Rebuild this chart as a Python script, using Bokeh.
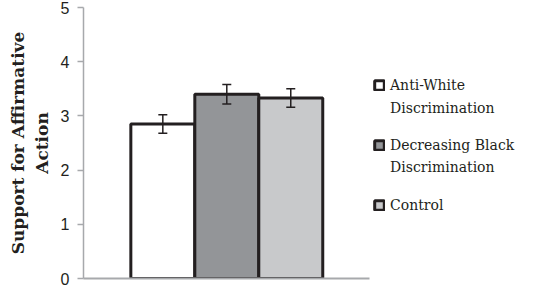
from bokeh.plotting import figure
from bokeh.models import (ColumnDataSource, Whisker, Legend, LegendItem,
                          TeeHead, Range1d, FixedTicker)
from bokeh.embed import file_html
from bokeh.resources import INLINE

categories = ["Anti-White Discrimination", "Decreasing Black Discrimination", "Control"]
legend_first_lines = ["Anti-White", "Decreasing Black", "Control"]
legend_second_lines = ["Discrimination", "Discrimination"]
means = [2.85, 3.40, 3.33]
errors = [0.17, 0.18, 0.17]
colors = ["#ffffff", "#939598", "#c8c9cb"]
y_ticks = [0, 1, 2, 3, 4, 5]

positions = [i + 1 for i in range(len(categories))]
src = ColumnDataSource(dict(
    x=positions, name=categories, top=means, color=colors,
    upper=[m + e for m, e in zip(means, errors)],
    lower=[m - e for m, e in zip(means, errors)],
))

axis_start, axis_end = -0.24, 4.23

p = figure(width=534, height=287,
           x_range=Range1d(axis_start, 6.81),
           y_range=Range1d(0, 5),
           output_backend="svg", toolbar_location=None,
           min_border_left=83, min_border_top=7, min_border_bottom=9, min_border_right=0)

p.outline_line_color = None
p.xgrid.grid_line_color = None
p.ygrid.grid_line_color = None

xa = p.xaxis[0]
xa.ticker = FixedTicker(ticks=[])
xa.bounds = (axis_start, axis_end)
xa.axis_line_color = "#a7a9ac"
xa.axis_line_width = 2
xa.major_tick_line_color = None
xa.minor_tick_line_color = None
xa.major_tick_out = 0
xa.major_tick_in = 0
xa.major_label_standoff = 0

bars = p.vbar(x="x", top="top", width=1.0, source=src, fill_color="color",
              line_color="#231f20", line_width=3)
ghost = p.vbar(x="x", top="top", width=1.0, source=src, fill_alpha=0, line_alpha=0)

wh = Whisker(base="x", upper="upper", lower="lower", source=src,
             line_color="#231f20", line_width=1.5, level="overlay",
             upper_head=TeeHead(size=9, line_color="#231f20", line_width=1.5),
             lower_head=TeeHead(size=9, line_color="#231f20", line_width=1.5))
p.add_layout(wh)

ax = p.yaxis[0]
ax.ticker = FixedTicker(ticks=y_ticks)
ax.axis_line_color = "#a7a9ac"
ax.axis_line_width = 1.5
ax.major_tick_line_color = "#a7a9ac"
ax.major_tick_line_width = 1.5
ax.major_tick_out = 6
ax.major_tick_in = 0
ax.minor_tick_line_color = None
ax.major_label_text_font = "Liberation Sans"
ax.major_label_text_font_size = "16px"
ax.major_label_text_color = "#231f20"
ax.major_label_standoff = 8
ax.axis_label = "Support for Affirmative\nAction"
ax.axis_label_text_font = "DejaVu Serif"
ax.axis_label_text_font_style = "bold"
ax.axis_label_text_font_size = "17px"
ax.axis_label_text_color = "#231f20"
ax.axis_label_standoff = 6

common = dict(label_text_font="DejaVu Serif", label_text_font_size="14px",
              label_text_color="#231f20", glyph_width=12, glyph_height=12,
              label_standoff=5, label_height=20, padding=0, margin=0,
              border_line_color=None, background_fill_alpha=0)

items1 = [LegendItem(label=lbl, renderers=[bars], index=i) for i, lbl in enumerate(legend_first_lines)]
legend1 = Legend(items=items1, location=(290, 63), spacing=40, **common)
p.add_layout(legend1)

items2 = [LegendItem(label=lbl, renderers=[ghost], index=i) for i, lbl in enumerate(legend_second_lines)]
legend2 = Legend(items=items2, location=(290, 101), spacing=39, **common)
p.add_layout(legend2)

open("out.html", "w").write(file_html(p, INLINE))
